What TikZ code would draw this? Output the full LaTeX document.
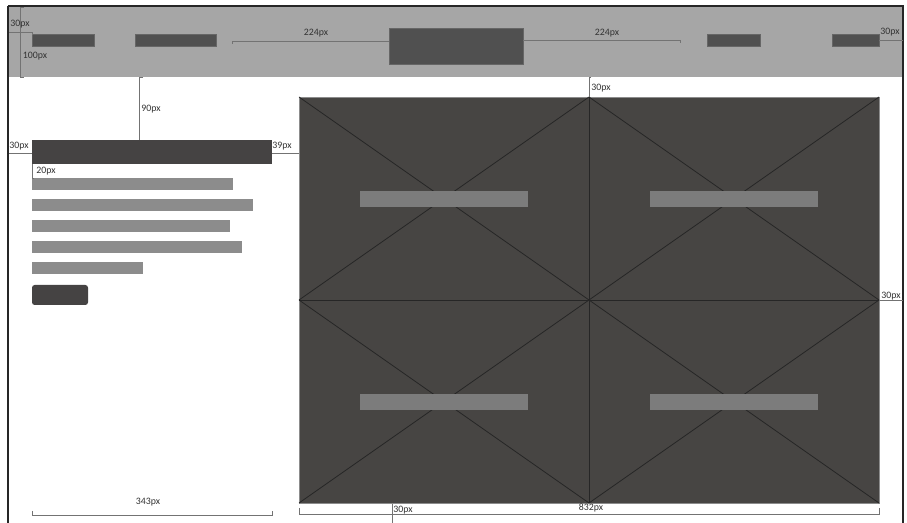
\documentclass[tikz,border=0pt]{standalone}
\usepackage{fontspec}
\setmainfont{Carlito}
\definecolor{headgray}{HTML}{A6A6A6}
\definecolor{blockdark}{HTML}{505050}
\definecolor{titledark}{HTML}{454343}
\definecolor{celldark}{HTML}{474543}
\definecolor{linegray}{HTML}{8C8C8C}
\definecolor{cellbar}{HTML}{7C7C7C}
\tikzset{
  dimline/.style={draw=black!55, line width=0.55pt},
  dimlbl/.style={font=\fontsize{5.6}{6}\selectfont, text=black!80, inner sep=0pt},
  cellline/.style={draw=black!85, line width=0.5pt},
  diagline/.style={draw=black!85, line width=0.45pt}
}
\begin{document}
\begin{tikzpicture}[x=0.02cm, y=-0.02cm]
\useasboundingbox (0,0) rectangle (907,523);
\fill[white] (0,0) rectangle (907,523);
\fill[headgray] (8,6) rectangle (903,77);
\foreach \xa/\ya/\xb/\yb in {32/34/94/46,135/34/216/46,389/28/523/64,707/34/760/46,832/34/879/46}
  \fill[blockdark,draw=black!60,line width=0.3pt] (\xa,\ya) rectangle (\xb,\yb);
\fill[titledark] (32,140) rectangle (272,164);
\foreach \y/\w in {178/233,199/253,220/230,241/242,262/143}
  \fill[linegray] (32,\y) rectangle (\w,\y+12);
\fill[titledark,rounded corners=1.5pt] (32,285) rectangle (88,305);
\fill[celldark,draw=black!45,line width=0.5pt] (299,97) rectangle (879,503);
\foreach \xa in {299,589} \foreach \ya in {97,300} {
  \draw[diagline] (\xa,\ya) -- (\xa+290,\ya+203) (\xa+290,\ya) -- (\xa,\ya+203);
  \fill[cellbar] (\xa+61,\ya+94) rectangle (\xa+229,\ya+110);
}
\draw[cellline] (589,97) -- (589,503) (299,300) -- (879,300);
\draw[black!85,line width=1.1pt] (903,523) -- (903,6) -- (8,6);
\draw[black!85,line width=1.4pt] (8,6) -- (8,523);
\draw[dimline] (24,7) -- (20,7) -- (20,77) -- (24,77);
\draw[dimline] (9,32) -- (32,32) -- (32,35);
\draw[dimline] (232,44) -- (232,41) -- (389,41);
\draw[dimline] (523,40) -- (680,40) -- (680,43);
\draw[dimline] (879,40) -- (903,40);
\draw[dimline] (143,77) -- (139,77) -- (139,140);
\draw[dimline] (9,153) -- (32,153);
\draw[dimline] (272,153) -- (299,153);
\draw[dimline] (32,164) -- (32,178) -- (34,178);
\draw[dimline] (591,77) -- (589,77) -- (589,97);
\draw[dimline] (879,300) -- (903,300);
\draw[dimline] (32,511) -- (32,515) -- (272,515) -- (272,511);
\draw[dimline] (299,508) -- (299,514) -- (879,514) -- (879,508);
\draw[dimline] (392,504) -- (392,523);
\foreach \nm/\x/\y/\txt in {tl30/20/24/30px,h100/35/56/100px,h224a/316/33/224px,h224b/607/33/224px,
  tr30/890/32/30px,v90/151/109/90px,l30/19/146/30px,r39/282/146/39px,t20/46/171/20px,
  g30/601/88/30px,gr30/891/296/30px,w343/148/502/343px,w832/591/508/832px,b30/403/510/30px}
  \node[dimlbl] (\nm) at (\x,\y) {\txt};
\end{tikzpicture}
\end{document}
